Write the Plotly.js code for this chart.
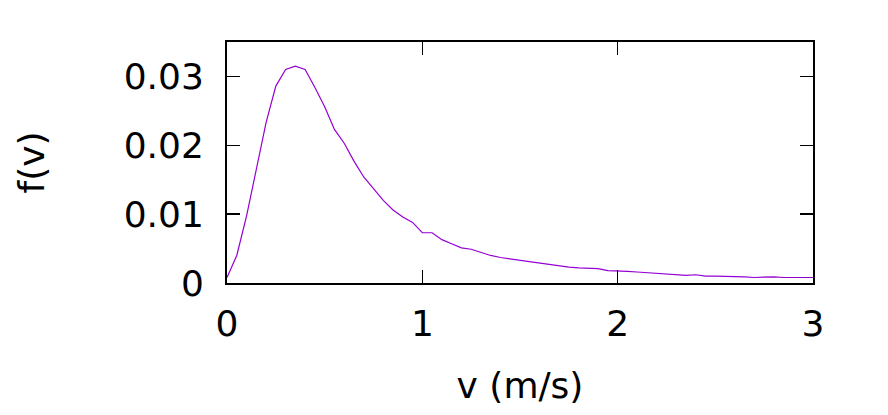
<!DOCTYPE html>
<html>
<head>
<meta charset="utf-8">
<script src="https://cdn.plot.ly/plotly-3.0.1.min.js"></script>
<style>
  body { margin: 0; background: #fff; }
  #chart { width: 888px; height: 415px; }
</style>
</head>
<body>
<div id="chart"></div>
<script>
const velocity = [
    0.0, 0.05, 0.1, 0.15, 0.2, 0.25, 0.3, 0.35, 0.4, 0.45,
    0.5, 0.55, 0.6, 0.65, 0.7, 0.75, 0.8, 0.85, 0.9, 0.95,
    1.0, 1.05, 1.1, 1.15, 1.2, 1.25, 1.3, 1.35, 1.4, 1.45,
    1.5, 1.55, 1.6, 1.65, 1.7, 1.75, 1.8, 1.85, 1.9, 1.95,
    2.0, 2.05, 2.1, 2.15, 2.2, 2.25, 2.3, 2.35, 2.4, 2.45,
    2.5, 2.55, 2.6, 2.65, 2.7, 2.75, 2.8, 2.85, 2.9, 2.95, 3.0
];
const density = [
    0.0008, 0.0040, 0.0097, 0.0167, 0.0233, 0.0286, 0.0310, 0.0315, 0.0310, 0.0284,
    0.0256, 0.0223, 0.0203, 0.0177, 0.0154, 0.0137, 0.0120, 0.0106, 0.0096, 0.0088,
    0.0073, 0.0073, 0.0063, 0.0057, 0.0051, 0.0049, 0.0044, 0.0040, 0.0037, 0.0035,
    0.0032, 0.0031, 0.0028, 0.0027, 0.0024, 0.0023, 0.0022, 0.0021, 0.0021, 0.0018,
    0.0018, 0.0017, 0.0016, 0.0015, 0.0014, 0.0013, 0.0013, 0.0011, 0.0012, 0.0010,
    0.0010, 0.0010, 0.0010, 0.0009, 0.0008, 0.0009, 0.0009, 0.0008, 0.0008, 0.0008, 0.0008
];

const xTicks = [0, 1, 2, 3];
const yTicks = [0, 0.01, 0.02, 0.03];

const trace = {
    x: velocity,
    y: density,
    type: 'scatter',
    mode: 'lines',
    line: { color: '#9400d3', width: 1.2 },
    hoverinfo: 'skip'
};

const axisFont = { family: 'DejaVu Sans, sans-serif', size: 36, color: '#000' };

const layout = {
    width: 888,
    height: 415,
    margin: { l: 227, r: 75, t: 42, b: 132 },
    paper_bgcolor: '#fff',
    plot_bgcolor: '#fff',
    showlegend: false,
    font: axisFont,
    xaxis: {
        range: [0, 3],
        tickvals: xTicks,
        ticks: 'inside',
        ticklen: 13,
        tickwidth: 1.5,
        tickcolor: '#000',
        showline: true,
        linecolor: '#000',
        linewidth: 2,
        mirror: 'ticks',
        showgrid: false,
        zeroline: false,
        tickfont: axisFont,
        ticklabelstandoff: 8,
        title: { text: 'v (m/s)', font: axisFont, standoff: 30 }
    },
    yaxis: {
        range: [0, 0.035],
        tickvals: yTicks,
        ticks: 'inside',
        ticklen: 13,
        tickwidth: 1.5,
        tickcolor: '#000',
        showline: true,
        linecolor: '#000',
        linewidth: 2,
        mirror: 'ticks',
        showgrid: false,
        zeroline: false,
        tickfont: axisFont,
        ticklabelstandoff: 14,
        title: { text: 'f(v)', font: axisFont, standoff: 68 }
    }
};

Plotly.newPlot('chart', [trace], layout, { staticPlot: true });
</script>
</body>
</html>
